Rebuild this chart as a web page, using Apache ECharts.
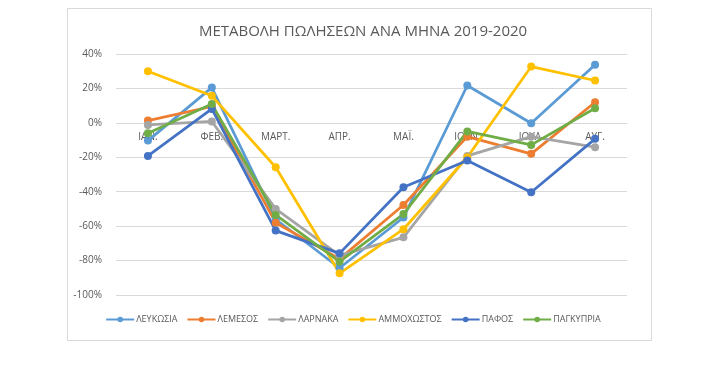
<!DOCTYPE html>
<html>
<head>
<meta charset="utf-8">
<script src="https://cdn.jsdelivr.net/npm/echarts@6/dist/echarts.min.js"></script>
<style>html,body{margin:0;padding:0;background:#fff;}#c{width:706px;height:365px;}</style>
</head>
<body>
<div id="c"></div>
<script>
const categories = ['ΙΑΝ.', 'ΦΕΒ.', 'ΜΑΡΤ.', 'ΑΠΡ.', 'ΜΑΪ.', 'ΙΟΥΝ.', 'ΙΟΥΛ.', 'ΑΥΓ.'];
const seriesNames = ['ΛΕΥΚΩΣΙΑ', 'ΛΕΜΕΣΟΣ', 'ΛΑΡΝΑΚΑ', 'ΑΜΜΟΧΩΣΤΟΣ', 'ΠΑΦΟΣ', 'ΠΑΓΚΥΠΡΙΑ'];
const lefkosia   = [-10.3, 20.5, -56, -84.3, -55, 21.7, -0.2, 33.7];
const lemesos    = [1.3, 9.5, -58, -79, -47.7, -8, -18, 12];
const larnaka    = [-1.2, 0.8, -50, -77, -66.5, -19.2, -8, -14.1];
const ammochostos= [30, 15.7, -25.8, -87.4, -61.8, -20, 32.7, 24.6];
const pafos      = [-19.2, 8.1, -62.6, -75.8, -37.4, -21.9, -40.3, -9.3];
const pagkypria  = [-6, 10.9, -53.5, -80.6, -53, -5, -12.8, 8.5];
const yTicks = {min: -100, max: 40, interval: 20};
const colors = ['#5B9BD5', '#ED7D31', '#A5A5A5', '#FFC000', '#4472C4', '#70AD47'];
const allData = [lefkosia, lemesos, larnaka, ammochostos, pafos, pagkypria];

const gridTop = 54, gridBottom = 70, H = 365;
const plotH = H - gridTop - gridBottom;
const zeroOffset = -plotH * (0 - yTicks.min) / (yTicks.max - yTicks.min);

const chart = echarts.init(document.getElementById('c'));
chart.setOption({
  animation: false,
  color: colors,
  graphic: [{type: 'rect', shape: {x: 67.5, y: 8.5, width: 584, height: 332}, style: {fill: 'none', stroke: '#D9D9D9', lineWidth: 1}}],
  title: {text: 'ΜΕΤΑΒΟΛΗ ΠΩΛΗΣΕΩΝ ΑΝΑ ΜΗΝΑ 2019-2020', left: 358, top: 19, textAlign: 'center',
    textStyle: {fontFamily: 'Open Sans', fontSize: 15, fontWeight: 'normal', color: '#595959'}},
  legend: {bottom: 36, left: 'center', itemWidth: 28, itemHeight: 7, itemGap: 9,
    textStyle: {fontFamily: 'Open Sans', fontSize: 9, color: '#595959', padding: [0, 0, 0, -3]}},
  grid: {left: 116, right: 79, top: gridTop, bottom: gridBottom},
  xAxis: {type: 'category', data: categories, boundaryGap: true, offset: zeroOffset,
    axisLine: {show: false, onZero: false},
    axisTick: {show: false},
    axisLabel: {fontFamily: 'Open Sans', fontSize: 10, color: '#595959', margin: 9}},
  yAxis: {type: 'value', min: yTicks.min, max: yTicks.max, interval: yTicks.interval,
    axisLine: {show: false}, axisTick: {show: false},
    splitLine: {lineStyle: {color: '#D9D9D9'}},
    axisLabel: {formatter: '{value}%', fontFamily: 'Open Sans', fontSize: 10, color: '#595959', margin: 14}},
  series: seriesNames.map((n, i) => ({
    name: n, type: 'line', data: allData[i], symbol: 'circle', symbolSize: 8,
    lineStyle: {width: 2.75}, itemStyle: {color: colors[i]}
  }))
});
</script>
</body>
</html>
